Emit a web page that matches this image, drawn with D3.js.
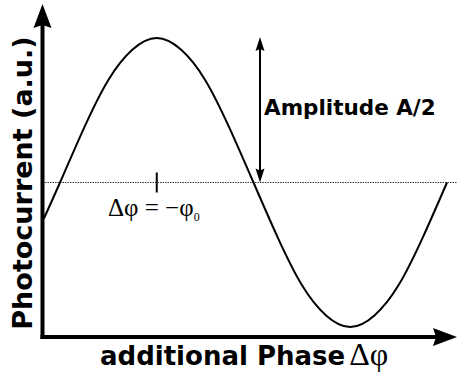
<!DOCTYPE html>
<html>
<head>
<meta charset="utf-8">
<script src="https://cdn.jsdelivr.net/npm/d3@7"></script>
<style>
  html, body { margin: 0; padding: 0; background: #fff; }
  svg { display: block; }
</style>
</head>
<body>
<svg id="chart" width="457" height="372"></svg>
<script>
// Photocurrent versus additional phase, one full period of the interference signal
const phaseDeg = [-15, 0, 22.5, 45, 67.5, 90, 112.5, 135, 157.5, 180, 202.5, 225, 247.5, 270, 292.5, 315, 337.5, 360];
const photocurrent = [-0.25, 0, 0.38, 0.71, 0.92, 1, 0.92, 0.71, 0.38, 0, -0.38, -0.71, -0.92, -1, -0.92, -0.71, -0.38, 0];

const phaseDomain = [0, 360];
const currentDomain = [-1, 1];
const offsetLevel = 0;        // mean photocurrent (dotted reference line)
const peakPhase = 90;         // where Δφ = −φ0
const amplitudeTop = 1;       // top of the amplitude arrow

const svg = d3.select("#chart");

const x = d3.scaleLinear().domain(phaseDomain).range([60, 447]);
const y = d3.scaleLinear().domain(currentDomain).range([327, 38]);

const axisX = 42.5, axisY = 337;

// dotted mean level
svg.append("line")
  .attr("x1", axisX).attr("x2", 457)
  .attr("y1", y(offsetLevel)).attr("y2", y(offsetLevel))
  .attr("stroke", "#333").attr("stroke-width", 1)
  .attr("stroke-dasharray", "1.5,1");

// sine curve
const line = d3.line()
  .x((d, i) => x(phaseDeg[i]))
  .y(d => y(d))
  .curve(d3.curveNatural);

svg.append("path")
  .attr("d", line(photocurrent))
  .attr("fill", "none")
  .attr("stroke", "#000")
  .attr("stroke-width", 2);

// axes with arrowheads
svg.append("line")
  .attr("x1", axisX).attr("x2", axisX)
  .attr("y1", axisY + 2).attr("y2", 22)
  .attr("stroke", "#000").attr("stroke-width", 4);
svg.append("path")
  .attr("d", `M${axisX},4 L${axisX + 9},28 L${axisX},25 L${axisX - 9},28 Z`)
  .attr("fill", "#000");

svg.append("line")
  .attr("x1", axisX - 2).attr("x2", 440)
  .attr("y1", axisY).attr("y2", axisY)
  .attr("stroke", "#000").attr("stroke-width", 4);
svg.append("path")
  .attr("d", `M457,${axisY} L433,${axisY - 9} L436,${axisY} L433,${axisY + 9} Z`)
  .attr("fill", "#000");

// tick at the maximum
svg.append("line")
  .attr("x1", x(peakPhase)).attr("x2", x(peakPhase))
  .attr("y1", y(offsetLevel) - 10).attr("y2", y(offsetLevel) + 10)
  .attr("stroke", "#000").attr("stroke-width", 2);

// amplitude double arrow
const ax = 260;
const yTop = y(amplitudeTop) - 1, yBot = y(offsetLevel);
svg.append("line")
  .attr("x1", ax).attr("x2", ax)
  .attr("y1", yTop + 10).attr("y2", yBot - 10)
  .attr("stroke", "#000").attr("stroke-width", 2);
svg.append("path")
  .attr("d", `M${ax},${yTop} L${ax + 4.5},${yTop + 14} L${ax},${yTop + 12} L${ax - 4.5},${yTop + 14} Z`)
  .attr("fill", "#000");
svg.append("path")
  .attr("d", `M${ax},${yBot} L${ax + 4.5},${yBot - 14} L${ax},${yBot - 12} L${ax - 4.5},${yBot - 14} Z`)
  .attr("fill", "#000");

svg.append("text")
  .attr("x", 264).attr("y", 115)
  .attr("font-family", "DejaVu Sans")
  .attr("font-weight", "bold")
  .attr("font-size", 21.5)
  .text("Amplitude A/2");

// Δφ = −φ0 annotation
const ann = svg.append("text")
  .attr("x", 108).attr("y", 216)
  .attr("font-family", "Liberation Serif")
  .attr("font-size", 25);
ann.append("tspan").text("Δφ = −φ");
ann.append("tspan").attr("font-size", 12).attr("dy", 5).text("0");

// axis titles
const xt = svg.append("text")
  .attr("x", 100).attr("y", 365);
xt.append("tspan")
  .attr("font-family", "DejaVu Sans").attr("font-weight", "bold").attr("font-size", 26)
  .text("additional Phase");
xt.append("tspan")
  .attr("font-family", "Liberation Serif").attr("font-size", 32).attr("dx", 4)
  .text("Δφ");

svg.append("text")
  .attr("transform", "translate(32,183) rotate(-90)")
  .attr("text-anchor", "middle")
  .attr("font-family", "DejaVu Sans")
  .attr("font-weight", "bold")
  .attr("font-size", 27)
  .text("Photocurrent (a.u.)");
</script>
</body>
</html>
